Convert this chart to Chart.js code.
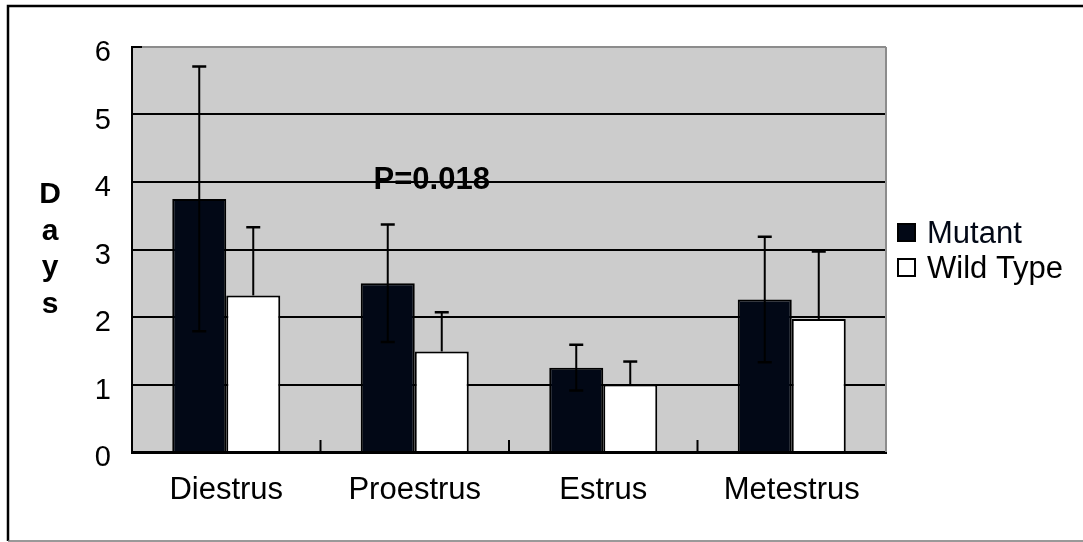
<!DOCTYPE html>
<html>
<head>
<meta charset="utf-8">
<script src="https://cdn.jsdelivr.net/npm/chart.js@4.4.1/dist/chart.umd.min.js"></script>
<style>
  html, body { margin: 0; padding: 0; background: #fff; }
  #wrap { width: 1083px; height: 542px; }
</style>
</head>
<body>
<div id="wrap"><canvas id="chart" width="1083" height="542"></canvas></div>
<script>
const categories = ['Diestrus', 'Proestrus', 'Estrus', 'Metestrus'];
const mutantDays = [3.75, 2.5, 1.25, 2.26];
const mutantErr = [1.96, 0.87, 0.34, 0.93];
const wildTypeDays = [2.32, 1.49, 1.0, 1.97];
const wildTypeErr = [1.01, 0.58, 0.34, 1.0];
const yTicks = [0, 1, 2, 3, 4, 5, 6];
const pLabel = 'P=0.018';
const yTitle = 'Days';

const FONT = "'Liberation Sans', Arial, sans-serif";
const NAVY = '#020816';

// white page, gray plot background and the outer frame
const framePlugin = {
	id: 'frame',
	beforeDraw(chart) {
		const { ctx, chartArea: a, width } = chart;
		ctx.save();
		ctx.fillStyle = '#fff';
		ctx.fillRect(0, 0, chart.width, chart.height);
		ctx.fillStyle = '#cccccc';
		ctx.fillRect(a.left, a.top, a.right - a.left, a.bottom - a.top);
		ctx.strokeStyle = '#000';
		ctx.lineWidth = 2.5;
		ctx.beginPath();
		ctx.moveTo(8, 541);
		ctx.lineTo(8, 6);
		ctx.lineTo(width, 6);
		ctx.stroke();
		ctx.strokeStyle = '#777';
		ctx.lineWidth = 1.5;
		ctx.beginPath();
		ctx.moveTo(8, 541);
		ctx.lineTo(width, 541);
		ctx.stroke();
		ctx.restore();
	},
	beforeDatasetsDraw(chart) {
		const { ctx, chartArea: a, scales } = chart;
		ctx.save();
		// gray right edge of the plot
		ctx.strokeStyle = '#8c8c8c';
		ctx.lineWidth = 2;
		ctx.beginPath();
		ctx.moveTo(a.right, a.top);
		ctx.lineTo(a.right, a.bottom);
		ctx.stroke();
		// inner tick at the top of the y axis
		ctx.strokeStyle = '#000';
		ctx.beginPath();
		ctx.moveTo(a.left, a.top);
		ctx.lineTo(a.left + 10, a.top);
		ctx.stroke();
		// short marks between categories
		const x = scales.x;
		ctx.lineWidth = 2;
		for (let i = 0; i < categories.length - 1; i++) {
			const px = (x.getPixelForValue(i) + x.getPixelForValue(i + 1)) / 2;
			ctx.beginPath();
			ctx.moveTo(px, a.bottom);
			ctx.lineTo(px, a.bottom - 12);
			ctx.stroke();
		}
		ctx.restore();
	},
	afterDatasetsDraw(chart) {
		const { ctx, scales } = chart;
		ctx.save();
		ctx.strokeStyle = '#000';
		ctx.lineWidth = 2;
		chart.data.datasets.forEach((ds, di) => {
			const meta = chart.getDatasetMeta(di);
			ds.data.forEach((v, i) => {
				const px = meta.data[i].x;
				const top = scales.y.getPixelForValue(v + ds.errPlus[i]);
				const bottom = ds.errMinus ? scales.y.getPixelForValue(v - ds.errMinus[i]) : scales.y.getPixelForValue(v);
				ctx.beginPath();
				ctx.moveTo(px, top);
				ctx.lineTo(px, bottom);
				ctx.stroke();
				ctx.lineWidth = 2.5;
				ctx.beginPath();
				ctx.moveTo(px - 7, top);
				ctx.lineTo(px + 7, top);
				if (ds.errMinus) {
					ctx.moveTo(px - 7, bottom);
					ctx.lineTo(px + 7, bottom);
				}
				ctx.stroke();
				ctx.lineWidth = 2;
			});
		});
		ctx.restore();
	},
	afterDraw(chart) {
		const { ctx, scales } = chart;
		ctx.save();
		ctx.fillStyle = '#000';

		// significance note
		ctx.font = 'bold 31px ' + FONT;
		ctx.textAlign = 'center';
		ctx.textBaseline = 'alphabetic';
		ctx.fillText(pLabel, scales.x.getPixelForValue(1) + 17, scales.y.getPixelForValue(3.9));

		// stacked y title
		ctx.font = 'bold 30px ' + FONT;
		yTitle.split('').forEach((ch, i) => {
			ctx.fillText(ch, 50, 203 + i * 36.7);
		});

		// legend
		ctx.textAlign = 'left';
		ctx.font = '31px ' + FONT;
		chart.data.datasets.forEach((ds, i) => {
			const y0 = 224 + i * 35;
			ctx.fillStyle = ds.backgroundColor;
			ctx.fillRect(898, y0, 17, 17);
			ctx.strokeStyle = '#000';
			ctx.lineWidth = 2;
			ctx.strokeRect(898, y0, 17, 17);
			ctx.fillStyle = i === 0 ? NAVY : '#000';
			ctx.fillText(ds.label, 927, y0 + 18.5);
		});
		ctx.restore();
	},
};

new Chart(document.getElementById('chart').getContext('2d'), {
	type: 'bar',
	data: {
		labels: categories,
		datasets: [
			{
				label: 'Mutant',
				data: mutantDays,
				errPlus: mutantErr,
				errMinus: mutantErr,
				backgroundColor: NAVY,
				borderColor: '#000',
				borderWidth: 2,
			},
			{
				label: 'Wild Type',
				data: wildTypeDays,
				errPlus: wildTypeErr,
				errMinus: null,
				backgroundColor: '#ffffff',
				borderColor: '#000',
				borderWidth: 2,
			},
		],
	},
	options: {
		responsive: false,
		animation: false,
		categoryPercentage: 0.573,
		barPercentage: 1.0,
		layout: {
			padding: { top: 47, right: 197, bottom: 0, left: 0 },
		},
		plugins: {
			legend: { display: false },
			tooltip: { enabled: false },
		},
		scales: {
			x: {
				grid: { display: false },
				border: { color: '#000', width: 3 },
				ticks: {
					color: '#000',
					font: { family: FONT, size: 31 },
					padding: 12,
				},
				afterFit(scale) { scale.height = 90; },
			},
			y: {
				min: 0,
				max: 6,
				afterBuildTicks(scale) {
					scale.ticks = yTicks.map(v => ({ value: v }));
				},
				grid: {
					color: ctx => (ctx.tick && ctx.tick.value === 6 ? '#8c8c8c' : '#000'),
					lineWidth: 2,
					drawTicks: false,
				},
				border: { color: '#000', width: 2 },
				ticks: {
					color: '#000',
					font: { family: FONT, size: 29 },
					padding: 21,
					labelOffset: 6,
				},
				afterFit(scale) { scale.width = 132; },
			},
		},
	},
	plugins: [framePlugin],
});
</script>
</body>
</html>
